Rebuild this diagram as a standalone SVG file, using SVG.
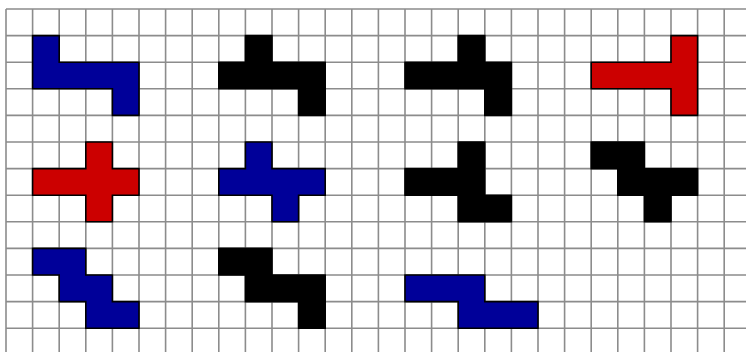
<svg xmlns="http://www.w3.org/2000/svg" width="746" height="352" viewBox="0 0 746 352">
<style>
.grid{stroke:#8c8c8c;stroke-width:1.6;fill:none}
.p{stroke:#000;stroke-width:1.6;stroke-linejoin:miter}
.blue{fill:#000099}
.red{fill:#cc0000}
.black{fill:#000}
</style>
<rect width="746" height="352" fill="#fff"/>
<g id="grid">
<path class="grid" d="M6,9V352M32.6,9V352M59.2,9V352M85.8,9V352M112.4,9V352M139,9V352M165.6,9V352M192.2,9V352M218.8,9V352M245.4,9V352M272,9V352M298.6,9V352M325.2,9V352M351.8,9V352M378.4,9V352M405,9V352M431.6,9V352M458.2,9V352M484.8,9V352M511.4,9V352M538,9V352M564.6,9V352M591.2,9V352M617.8,9V352M644.4,9V352M671,9V352M697.6,9V352M724.2,9V352
M6,9H746M6,35.6H746M6,62.2H746M6,88.8H746M6,115.4H746M6,142H746M6,168.6H746M6,195.2H746M6,221.8H746M6,248.4H746M6,275H746M6,301.6H746M6,328.2H746"/>
</g>
<g id="shape1"><path class="p blue" d="M32.6,35.6H59.2V62.2H139V115.4H112.4V88.8H32.6Z"/></g>
<g id="shape2"><path class="p black" d="M245.4,35.6H272V62.2H325.2V115.4H298.6V88.8H218.8V62.2H245.4Z"/></g>
<g id="shape3"><path class="p black" d="M458.2,35.6H484.8V62.2H511.4V115.4H484.8V88.8H405V62.2H458.2Z"/></g>
<g id="shape4"><path class="p red" d="M671,35.6H697.6V115.4H671V88.8H591.2V62.2H671Z"/></g>
<g id="shape5"><path class="p red" d="M85.8,142H112.4V168.6H139V195.2H112.4V221.8H85.8V195.2H32.6V168.6H85.8Z"/></g>
<g id="shape6"><path class="p blue" d="M245.4,142H272V168.6H325.2V195.2H298.6V221.8H272V195.2H218.8V168.6H245.4Z"/></g>
<g id="shape7"><path class="p black" d="M458.2,142H484.8V195.2H511.4V221.8H458.2V195.2H405V168.6H458.2Z"/></g>
<g id="shape8"><path class="p black" d="M591.2,142H644.4V168.6H697.6V195.2H671V221.8H644.4V195.2H617.8V168.6H591.2Z"/></g>
<g id="shape9"><path class="p blue" d="M32.6,248.4H85.8V275H112.4V301.6H139V328.2H85.8V301.6H59.2V275H32.6Z"/></g>
<g id="shape10"><path class="p black" d="M218.8,248.4H272V275H325.2V328.2H298.6V301.6H245.4V275H218.8Z"/></g>
<g id="shape11"><path class="p blue" d="M405,275H484.8V301.6H538V328.2H458.2V301.6H405Z"/></g>
<g id="connectors"></g>
</svg>
